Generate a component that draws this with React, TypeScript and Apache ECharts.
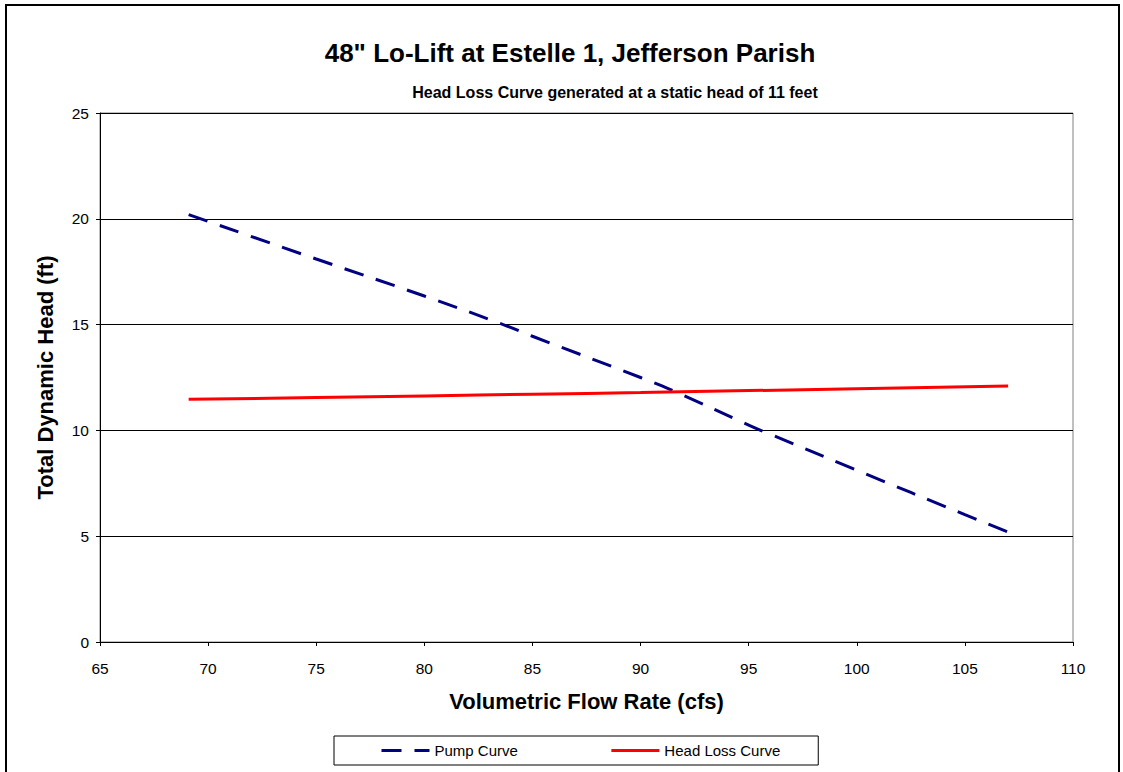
import React, { useEffect, useRef } from "react";
import * as echarts from "echarts";

const titleText = '48" Lo-Lift at Estelle 1, Jefferson Parish';
const subtitleText = "Head Loss Curve generated at a static head of 11 feet";
const xAxisName = "Volumetric Flow Rate (cfs)";
const yAxisName = "Total Dynamic Head (ft)";

const pumpFlow = [69.1, 75, 80, 83.65, 85, 90, 91.67, 95, 95.76, 100, 105, 107];
const pumpHead = [20.2, 18.1, 16.35, 15.0, 14.45, 12.5, 11.8, 10.25, 9.92, 8.12, 6.02, 5.2];

const lossFlow = [69.1, 75, 80, 85, 90, 95, 100, 107];
const lossHead = [11.47, 11.55, 11.63, 11.71, 11.79, 11.88, 11.97, 12.1];

const FONT = "Arial, 'Liberation Sans', sans-serif";

export default function App() {
  const ref = useRef<HTMLDivElement>(null);
  useEffect(() => {
    if (!ref.current) return;
    const chart = echarts.init(ref.current, null, { renderer: "svg" });
    chart.setOption({
      animation: false,
      backgroundColor: "#ffffff",
      textStyle: { fontFamily: FONT, color: "#000" },
      title: [
        {
          text: titleText,
          left: 565,
          top: 35,
          textAlign: "center",
          textStyle: { fontFamily: FONT, fontSize: 26, fontWeight: "bold", color: "#000" },
        },
        {
          text: subtitleText,
          left: 610,
          top: 79,
          textAlign: "center",
          textStyle: { fontFamily: FONT, fontSize: 16, fontWeight: "bold", color: "#000" },
        },
      ],
      graphic: [
        {
          type: "rect",
          shape: { x: 6, y: 5, width: 1113, height: 800 },
          style: { fill: "none", stroke: "#000", lineWidth: 2 },
          silent: true,
        },
      ],
      legend: {
        left: 334,
        top: 736,
        orient: "horizontal",
        borderColor: "#000",
        borderWidth: 1,
        padding: [7, 38, 7, 46],
        itemWidth: 48,
        itemHeight: 14,
        itemGap: 92,
        itemStyle: { opacity: 0 },
        lineStyle: { width: 3 },
        textStyle: { fontFamily: FONT, fontSize: 15, color: "#000" },
        data: ["Pump Curve", "Head Loss Curve"],
      },
      grid: {
        left: 100,
        top: 113,
        right: 50,
        bottom: 130,
        show: true,
        borderColor: "#808080",
        borderWidth: 1,
        backgroundColor: "#ffffff",
      },
      xAxis: {
        type: "value",
        min: 65,
        max: 110,
        interval: 5,
        name: xAxisName,
        nameLocation: "middle",
        nameGap: 48,
        nameTextStyle: { fontFamily: FONT, fontSize: 22, fontWeight: "bold", color: "#000" },
        axisLine: { show: true, lineStyle: { color: "#000", width: 1 } },
        axisTick: { show: true, length: 4, lineStyle: { color: "#000" } },
        axisLabel: { fontFamily: FONT, fontSize: 15.5, color: "#000", margin: 18 },
        splitLine: { show: false },
      },
      yAxis: {
        type: "value",
        min: 0,
        max: 25,
        interval: 5,
        name: yAxisName,
        nameLocation: "middle",
        nameGap: 44,
        nameTextStyle: { fontFamily: FONT, fontSize: 22, fontWeight: "bold", color: "#000" },
        axisLine: { show: true, lineStyle: { color: "#000", width: 1 } },
        axisTick: { show: true, length: 4, lineStyle: { color: "#000" } },
        axisLabel: { fontFamily: FONT, fontSize: 15.5, color: "#000", margin: 11 },
        splitLine: { show: true, lineStyle: { color: "#000", width: 1 } },
      },
      series: [
        {
          name: "Pump Curve",
          type: "line",
          data: pumpFlow.map((x, i) => [x, pumpHead[i]]),
          smooth: true,
          showSymbol: false,
          symbol: "none",
          lineStyle: { color: "#000080", width: 3, type: [20, 13] },
          itemStyle: { color: "#000080" },
        },
        {
          name: "Head Loss Curve",
          type: "line",
          data: lossFlow.map((x, i) => [x, lossHead[i]]),
          smooth: true,
          showSymbol: false,
          symbol: "none",
          lineStyle: { color: "#ff0000", width: 3 },
          itemStyle: { color: "#ff0000" },
        },
      ],
    });
    return () => chart.dispose();
  }, []);
  return (
    <div
      ref={ref}
      style={{ position: "fixed", left: 0, top: 0, width: 1123, height: 772, background: "#fff" }}
    />
  );
}
